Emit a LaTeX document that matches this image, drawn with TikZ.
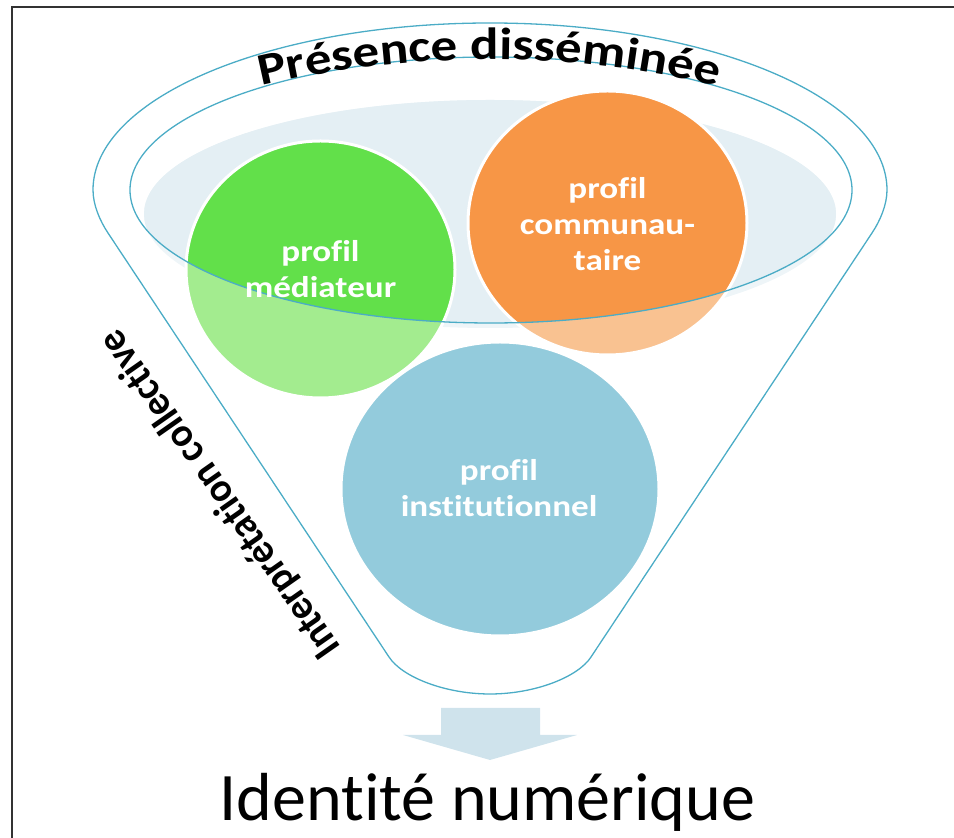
\documentclass[tikz,border=0pt]{standalone}
\usepackage{fontspec}
\setmainfont{Carlito}[RawFeature={-liga;-clig}]
\newfontfamily\labelfont{Carlito}[FakeStretch=1.17,RawFeature={-liga;-clig}]
\newfontfamily\presfont{Carlito}[FakeStretch=1.18,RawFeature={-liga;-clig}]
\newfontfamily\interfont{Carlito}[FakeStretch=0.95,RawFeature={-liga;-clig}]
\usetikzlibrary{decorations.text}
\definecolor{funline}{RGB}{75,172,198}
\definecolor{palebluefill}{RGB}{228,239,244}
\definecolor{palebluelight}{RGB}{238,245,248}
\definecolor{greenfull}{RGB}{98,224,74}
\definecolor{greenlight}{RGB}{163,236,143}
\definecolor{orangefull}{RGB}{247,150,70}
\definecolor{orangelight}{RGB}{249,194,145}
\definecolor{bluecirc}{RGB}{147,203,220}
\definecolor{arrowfill}{RGB}{207,227,236}
\definecolor{framecol}{RGB}{50,50,50}
\tikzset{
  funnelline/.style={draw=funline, line width=1.3pt},
  circborder/.style={draw=white, line width=3pt},
  circlabel/.style={font=\labelfont\bfseries\fontsize{30}{36}\selectfont, text=white, align=center},
}
\begin{document}
\begin{tikzpicture}[x=1pt,y=1pt]
\useasboundingbox (0,0) rectangle (954,838);
% frame
\draw[framecol, line width=1.5pt] (12,0) -- (12,831) -- (954,831);
% pale ellipse (funnel content)
\fill[palebluelight] (490,624) ellipse[x radius=346, y radius=114];
\begin{scope}
  \clip (491,648) ellipse[x radius=361, y radius=133];
  \fill[palebluefill] (490,624) ellipse[x radius=346, y radius=114];
\end{scope}
% green circle
\fill[greenlight] (320.5,568.5) ellipse[x radius=134.5, y radius=128.5];
\begin{scope}
  \clip (491,648) ellipse[x radius=361, y radius=133];
  \fill[greenfull] (320.5,568.5) ellipse[x radius=134.5, y radius=128.5];
\end{scope}
\path[circborder] (320.5,568.5) ellipse[x radius=134.5, y radius=128.5];
% orange circle
\fill[orangelight] (607.5,615) ellipse[x radius=139.5, y radius=132];
\begin{scope}
  \clip (491,648) ellipse[x radius=361, y radius=133];
  \fill[orangefull] (607.5,615) ellipse[x radius=139.5, y radius=132];
\end{scope}
\path[circborder] (607.5,615) ellipse[x radius=139.5, y radius=132];
% blue circle
\path[circborder, fill=bluecirc] (500,349) ellipse[x radius=159, y radius=147];
% funnel outline
\path[funnelline] (389,181) -- (108,605)
  .. controls (100,617) and (93,633) .. (93,648)
  arc[start angle=180, end angle=0, x radius=397, y radius=167]
  .. controls (887,633) and (880,617) .. (872,605)
  -- (591,181)
  .. controls (578,161) and (535,144) .. (490,144)
  .. controls (445,144) and (402,161) .. (389,181) -- cycle;
\path[funnelline] (491,648) ellipse[x radius=361, y radius=133];
% labels
\node[circlabel] (med) at (320.5,568.5) {profil\\médiateur};
\node[circlabel] (com) at (607.5,614) {profil\\communau-\\taire};
\node[circlabel] (inst) at (499,350) {profil\\institutionnel};
% curved title
\path[decorate, decoration={text along path, text align=center,
  text={|\presfont\bfseries\fontsize{45}{50}\selectfont|Présence disséminée}}]
  (261,752) arc[start angle=103.2, end angle=76.8, radius=1000];
% rotated side text
\node[rotate=125, font=\interfont\bfseries\fontsize{41}{48}\selectfont] (interp) at (221,344) {Interprétation collective};
% arrow
\fill[arrowfill] (441,130) -- (540,130) -- (540,103) -- (577,103) -- (490,78)
  -- (403,103) -- (441,103) -- cycle;
% result
\node[anchor=base, font=\fontsize{68}{80}\selectfont, inner sep=0pt] (ident) at (487.5,17) {Identité numérique};
\end{tikzpicture}
\end{document}
